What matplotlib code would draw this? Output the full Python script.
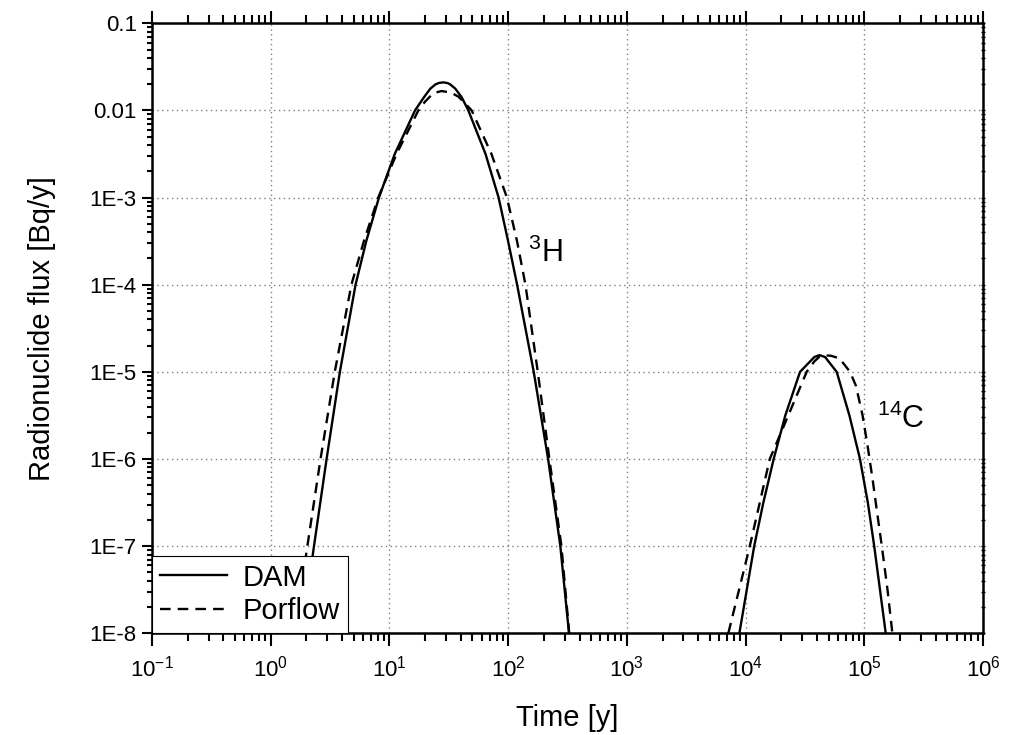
import matplotlib.pyplot as plt
from matplotlib.ticker import LogLocator, FixedLocator, FixedFormatter, NullFormatter

plt.rcParams['font.family'] = ['Liberation Sans', 'DejaVu Sans']
plt.rcParams['mathtext.fontset'] = 'custom'
plt.rcParams['mathtext.rm'] = 'Liberation Sans'
plt.rcParams['mathtext.it'] = 'Liberation Sans:italic'

# H-3, DAM (solid)
h3_dam_t = [1.82, 2.317, 2.958, 3.828, 5.188, 6.383, 8.166, 11.09, 16.44, 19.50, 22.13,
            24.55, 26.30, 28.44, 30.90, 32.36, 35.89, 40.74, 46.24, 64.57, 83.18, 100,
            119.1, 164.4, 217.3, 275.4, 325.8]
h3_dam_f = [1e-8, 1e-7, 1e-6, 1e-5, 1e-4, 3.16e-4, 1e-3, 3.16e-3, 0.01, 0.0141, 0.0178,
            0.0200, 0.0207, 0.0210, 0.0206, 0.0200, 0.0178, 0.0141, 0.01, 3.16e-3, 1e-3, 3.16e-4,
            1e-4, 1e-5, 1e-6, 1e-7, 1e-8]

# H-3, Porflow (dashed)
h3_por_t = [1.585, 2.037, 2.630, 3.467, 4.786, 6.095, 8.054, 11.48, 17.54, 19.95, 23.44,
            27.54, 33.11, 38.11, 43.65, 49.32, 72.44, 97.72, 118.9, 140.0, 177.8, 222.8,
            281.2, 327.3]
h3_por_f = [1e-8, 1e-7, 1e-6, 1e-5, 1e-4, 3.16e-4, 1e-3, 3.16e-3, 0.01, 0.0126, 0.0158,
            0.0167, 0.0160, 0.0144, 0.0120, 0.01, 3.16e-3, 1e-3, 3.16e-4, 1e-4, 1e-5, 1e-6,
            1e-7, 1e-8]

# C-14, DAM (solid)
c14_dam_t = [8872, 11830, 14130, 17260, 21630, 28770, 33880, 38020, 41880, 46770, 51290,
             58610, 74990, 92040, 107200, 121300, 151700]
c14_dam_f = [1e-8, 1e-7, 3.16e-7, 1e-6, 3.16e-6, 1e-5, 1.26e-5, 1.48e-5, 1.556e-5, 1.48e-5,
             1.26e-5, 1e-5, 3.16e-6, 1e-6, 3.16e-7, 1e-7, 1e-8]

# C-14, Porflow (dashed)
c14_por_t = [7161, 10860, 13180, 16000, 22910, 32730, 38020, 41690, 45190, 52480, 61660,
             68390, 75860, 85110, 96830, 106700, 117500, 129400, 140600, 157000, 172600]
c14_por_f = [1e-8, 1e-7, 3.16e-7, 1e-6, 3.16e-6, 1e-5, 1.32e-5, 1.48e-5, 1.55e-5, 1.53e-5,
             1.43e-5, 1.20e-5, 1e-5, 6.92e-6, 3.16e-6, 1.41e-6, 5.89e-7, 2.24e-7, 1e-7,
             3.16e-8, 1e-8]

ytick_vals = [1e-8, 1e-7, 1e-6, 1e-5, 1e-4, 1e-3, 1e-2, 1e-1]
ytick_labels = ['1E-8', '1E-7', '1E-6', '1E-5', '1E-4', '1E-3', '0.01', '0.1']

fig = plt.figure(figsize=(10.09, 7.35), dpi=100)
ax = fig.add_axes([0.1506, 0.1384, 0.8236, 0.8299])

dash = (4.5, 3)
ax.plot(h3_dam_t, h3_dam_f, color='black', lw=1.7, label='DAM')
ax.plot(h3_por_t, h3_por_f, color='black', lw=1.7, dashes=dash, label='Porflow')
ax.plot(c14_dam_t, c14_dam_f, color='black', lw=1.7)
ax.plot(c14_por_t, c14_por_f, color='black', lw=1.7, dashes=dash)

ax.set_xscale('log')
ax.set_yscale('log')
ax.set_xlim(0.1, 1e6)
ax.set_ylim(1e-8, 0.1)

ax.xaxis.set_major_locator(LogLocator(base=10, numticks=20))
ax.xaxis.set_minor_locator(LogLocator(base=10, subs=range(2, 10), numticks=20))
ax.xaxis.set_minor_formatter(NullFormatter())
ax.yaxis.set_major_locator(FixedLocator(ytick_vals))
ax.yaxis.set_major_formatter(FixedFormatter(ytick_labels))
ax.yaxis.set_minor_locator(LogLocator(base=10, subs=range(2, 10), numticks=20))
ax.yaxis.set_minor_formatter(NullFormatter())

ax.tick_params(which='both', direction='out', top=True, right=False, width=1.5,
               labelsize=16)
ax.tick_params(axis='x', which='major', length=9, pad=7)
ax.tick_params(axis='x', which='minor', length=5.5)
ax.tick_params(axis='y', which='major', length=7, pad=4)
ax.tick_params(axis='y', which='minor', length=3.6)
for sp in ax.spines.values():
    sp.set_linewidth(1.8)

# small ticks on the right spine
ax2 = ax.twinx()
ax2.set_yscale('log')
ax2.set_ylim(1e-8, 0.1)
ax2.yaxis.set_major_locator(FixedLocator(ytick_vals))
ax2.yaxis.set_minor_locator(LogLocator(base=10, subs=range(2, 10), numticks=20))
ax2.tick_params(which='both', direction='inout', length=3, width=1, labelright=False)
for sp in ax2.spines.values():
    sp.set_visible(False)

ax.grid(True, which='major', color='#808080', linestyle=(0, (1, 2.5)), lw=1)

ax.set_xlabel('Time [y]', fontsize=21, labelpad=16)
ax.set_ylabel('Radionuclide flux [Bq/y]', fontsize=21, labelpad=24)

ax.text(147, 1.82e-4, r'$^{3}$H', fontsize=22, ha='left', va='baseline')
ax.text(128000, 2.26e-6, r'$^{14}$C', fontsize=22, ha='left', va='baseline')

leg = ax.legend(loc='lower left', borderaxespad=0, fancybox=False, framealpha=1,
                edgecolor='black', fontsize=21, handlelength=2.3, handletextpad=0.55,
                borderpad=0.27, labelspacing=0.2)
leg.get_frame().set_linewidth(0.8)

fig.savefig('out.png', dpi=100)
